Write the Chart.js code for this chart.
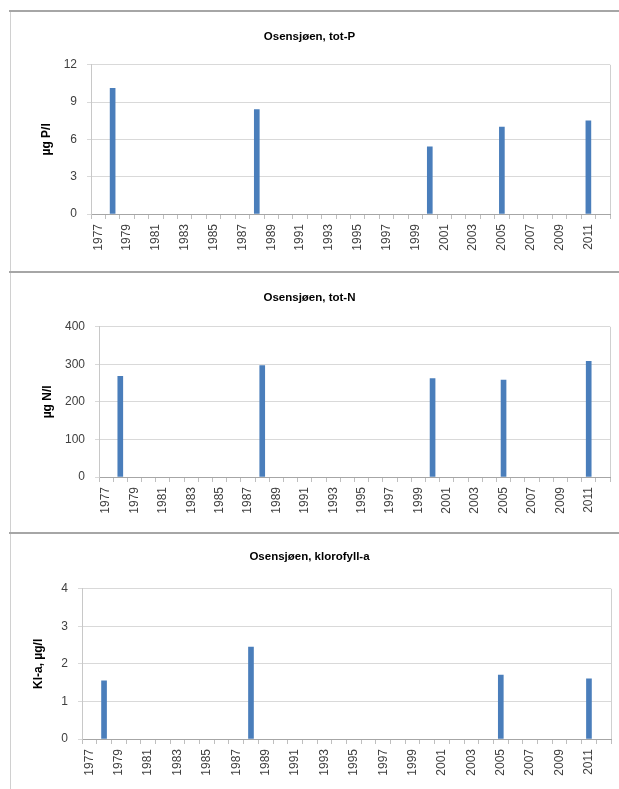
<!DOCTYPE html>
<html>
<head>
<meta charset="utf-8">
<script src="https://cdn.jsdelivr.net/npm/chart.js@4.4.1/dist/chart.umd.min.js"></script>
<style>
  html, body { margin: 0; padding: 0; background: #fff; }
  body { width: 619px; height: 789px; position: relative; overflow: hidden; }
  .panel { position: absolute; left: 0; width: 619px; }
  canvas { position: absolute; left: 0; top: 0; }
  .frame-top { position: absolute; left: 9px; right: 0; height: 2px; background: #a6a6a6; }
  .frame-left { position: absolute; left: 10px; width: 1px; top: 11px; bottom: 0; background: #d0d0d0; }
</style>
</head>
<body>
<div class="frame-left"></div>
<div class="frame-top" style="top:10px"></div>
<div class="frame-top" style="top:271px"></div>
<div class="frame-top" style="top:532px"></div>
<div class="panel" id="p1" style="top:12px;height:259px"><canvas id="c1"></canvas></div>
<div class="panel" id="p2" style="top:274px;height:258px"><canvas id="c2"></canvas></div>
<div class="panel" id="p3" style="top:535px;height:254px"><canvas id="c3"></canvas></div>
<script>
// Sampling years on the category axis
const years = ['1977','1978','1979','1980','1981','1982','1983','1984','1985','1986','1987','1988',
  '1989','1990','1991','1992','1993','1994','1995','1996','1997','1998','1999','2000',
  '2001','2002','2003','2004','2005','2006','2007','2008','2009','2010','2011','2012'];

// Total phosphorus, µg P/l
const totPYears = ['1978', '1988', '2000', '2005', '2011'];
const totPValues = [10.1, 8.4, 5.4, 7.0, 7.5];

// Total nitrogen, µg N/l
const totNYears = ['1978', '1988', '2000', '2005', '2011'];
const totNValues = [268, 297, 262, 258, 308];

// Chlorophyll a, µg/l
const chlYears = ['1978', '1988', '2005', '2011'];
const chlValues = [1.55, 2.45, 1.7, 1.6];

const yTicksP = [0, 3, 6, 9, 12];
const yTicksN = [0, 100, 200, 300, 400];
const yTicksChl = [0, 1, 2, 3, 4];

const FONT = "'Liberation Sans', Arial, sans-serif";
const BAR = '#4a7ebb';

// thin line along the right edge of the plot area
const plotEdge = {
  id: 'plotEdge',
  afterDraw(chart) {
    const a = chart.chartArea, ctx = chart.ctx;
    ctx.save();
    ctx.strokeStyle = '#d0d0d0';
    ctx.lineWidth = 1;
    ctx.beginPath();
    ctx.moveTo(Math.round(a.right) + 0.5, a.top);
    ctx.lineTo(Math.round(a.right) + 0.5, a.bottom);
    ctx.stroke();
    ctx.restore();
  }
};

function makeChart(id, w, h, cfg) {
  const cv = document.getElementById(id);
  cv.width = w; cv.height = h;
  const points = cfg.sampleYears.map((y, i) => ({ x: y, y: cfg.values[i] }));
  return new Chart(cv, {
    type: 'bar',
    data: {
      labels: years,
      datasets: [{ data: points, backgroundColor: BAR, borderWidth: 0, barThickness: 5 }]
    },
    plugins: [plotEdge],
    options: {
      responsive: false,
      animation: false,
      layout: { padding: { left: cfg.pad, right: cfg.pad, top: 0, bottom: 0 } },
      plugins: {
        legend: { display: false },
        tooltip: { enabled: false },
        title: {
          display: true,
          text: cfg.title,
          color: '#000',
          font: { family: FONT, size: 11.5, weight: 'bold' },
          padding: { top: cfg.titleTop, bottom: cfg.titleBottom }
        }
      },
      scales: {
        x: {
          type: 'category',
          offset: true,
          afterFit: s => { s.height = cfg.xHeight; s.paddingLeft = 0; s.paddingRight = 0; },
          grid: { display: true, drawOnChartArea: false, offset: true, tickLength: 5, color: '#bfbfbf' },
          border: { color: '#a6a6a6' },
          ticks: {
            autoSkip: false, minRotation: 90, maxRotation: 90, padding: 5,
            color: '#404040', font: { family: FONT, size: 12 },
            callback: (v, i) => (i % 2 === 0 ? years[i] : '')
          }
        },
        y: {
          min: cfg.yTicks[0],
          max: cfg.yTicks[cfg.yTicks.length - 1],
          afterFit: s => { s.width = cfg.yWidth; },
          afterBuildTicks: s => { s.ticks = cfg.yTicks.map(v => ({ value: v })); },
          grid: { color: '#d9d9d9', tickLength: 4 },
          border: { color: '#c8c8c8' },
          title: {
            display: true, text: cfg.yTitle, color: '#000',
            font: { family: FONT, size: 12, weight: 'bold' },
            padding: { top: cfg.yTitlePad, bottom: 0 }
          },
          ticks: { color: '#404040', padding: 10, font: { family: FONT, size: 12 } }
        }
      }
    }
  });
}

makeChart('c1', 619, 259, {
  title: 'Osensjøen, tot-P', yTitle: 'µg P/l',
  sampleYears: totPYears, values: totPValues, yTicks: yTicksP,
  pad: 9, yWidth: 82, yTitlePad: 30, xHeight: 57, titleTop: 18, titleBottom: 21
});
makeChart('c2', 619, 258, {
  title: 'Osensjøen, tot-N', yTitle: 'µg N/l',
  sampleYears: totNYears, values: totNValues, yTicks: yTicksN,
  pad: 9, yWidth: 90, yTitlePad: 31, xHeight: 55, titleTop: 17, titleBottom: 22
});
makeChart('c3', 619, 254, {
  title: 'Osensjøen, klorofyll-a', yTitle: 'Kl-a, µg/l',
  sampleYears: chlYears, values: chlValues, yTicks: yTicksChl,
  pad: 8, yWidth: 74, yTitlePad: 23, xHeight: 50, titleTop: 15, titleBottom: 25
});
</script>
</body>
</html>
